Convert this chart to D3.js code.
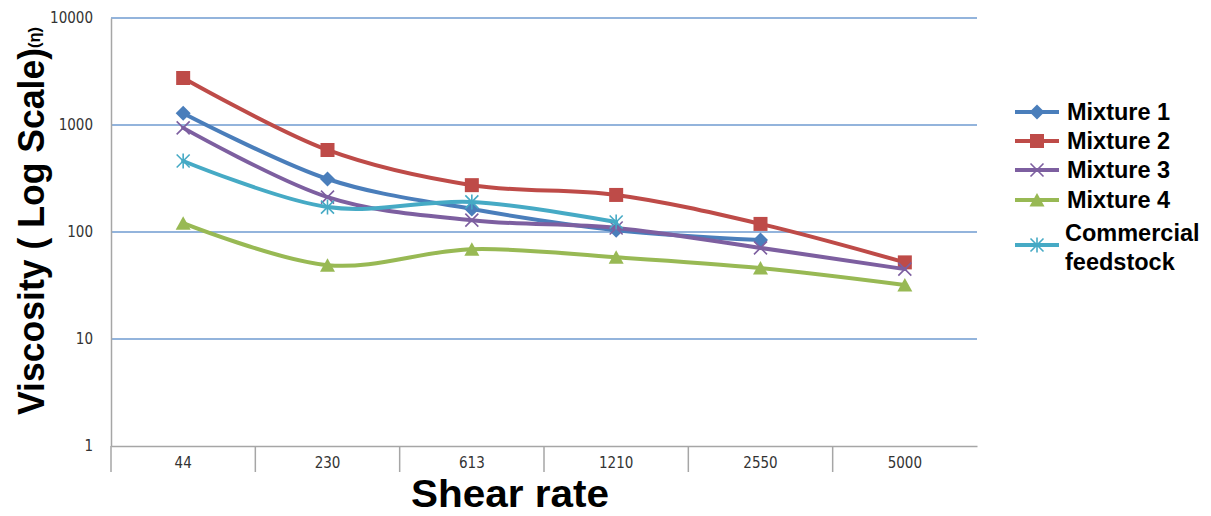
<!DOCTYPE html>
<html><head><meta charset="utf-8">
<script src="https://cdn.jsdelivr.net/npm/d3@7"></script>
<style>body{margin:0;background:#fff}svg{display:block}</style>
</head><body>
<script>
const categories = ["44","230","613","1210","2550","5000"];
const mixture1 = [1290, 313, 164, 104, 84, null];
const mixture2 = [2750, 584, 274, 222, 119, 52];
const mixture3 = [940, 212, 129, 109, 71, 45];
const mixture4 = [121, 49, 69, 58, 46, 32];
const commercial = [461, 171, 191, 124, null, null];
const yTicks = [1, 10, 100, 1000, 10000];
const seriesNames = ["Mixture 1","Mixture 2","Mixture 3","Mixture 4","Commercial feedstock"];
const seriesValues = [mixture1, mixture2, mixture3, mixture4, commercial];
const colors = ["#4a7ebb","#be4b48","#7d5fa0","#98b954","#46aac5"];
const markers = ["diamond","square","x","triangle","asterisk"];

(function () {
const W = 1211, H = 516;
const svg = d3.select("body").append("svg").attr("width", W).attr("height", H);
const pLeft = 111, pRight = 977, pTop = 18, pBottom = 446;
const x = d3.scaleBand().domain(categories).range([pLeft, pRight]);
const y = d3.scaleLog().domain([1, 10000]).range([pBottom, pTop]);
const narrow = "'Liberation Sans Narrow','DejaVu Sans Condensed',sans-serif";
const bold = "'Liberation Sans',Arial,sans-serif";

svg.append("g").selectAll("line").data(yTicks.slice(1)).join("line")
  .attr("x1", pLeft).attr("x2", pRight)
  .attr("y1", d => y(d)).attr("y2", d => y(d))
  .attr("stroke", "#6f9bd1").attr("stroke-width", 1.5);

const yAxis = svg.append("g").attr("transform", `translate(${pLeft},0)`)
  .call(d3.axisLeft(y).tickValues(yTicks).tickFormat(d3.format("d")).tickSize(0).tickPadding(18));
yAxis.select(".domain").attr("stroke", "#a6a6a6").attr("stroke-width", 1.5);
yAxis.selectAll("text").attr("font-family", narrow).attr("font-size", 15).attr("fill", "#333");

const xAxis = svg.append("g").attr("transform", `translate(0,${pBottom})`)
  .call(d3.axisBottom(x).tickSize(0).tickPadding(11));
xAxis.select(".domain").attr("stroke", "#a6a6a6").attr("stroke-width", 1.5);
xAxis.selectAll("text").attr("font-family", narrow).attr("font-size", 15).attr("fill", "#333");
const seps = categories.map(c => x(c));
svg.append("g").selectAll("line").data(seps).join("line")
  .attr("x1", d => d).attr("x2", d => d).attr("y1", pBottom).attr("y2", pBottom + 26)
  .attr("stroke", "#a6a6a6").attr("stroke-width", 1.5);

function drawMarker(g, type, color, cx, cy) {
  const s = g.append("g").attr("transform", `translate(${cx},${cy})`);
  if (type === "diamond") {
    s.append("path").attr("d", "M0,-7.5L7.5,0L0,7.5L-7.5,0Z").attr("fill", color);
  } else if (type === "square") {
    s.append("rect").attr("x", -7).attr("y", -7).attr("width", 14).attr("height", 14).attr("fill", color);
  } else if (type === "triangle") {
    s.append("path").attr("d", "M0,-7L7.5,6.5L-7.5,6.5Z").attr("fill", color);
  } else if (type === "x") {
    s.append("path").attr("d", "M-6.5,-6.5L6.5,6.5M-6.5,6.5L6.5,-6.5").attr("stroke", color).attr("stroke-width", 1.6);
  } else if (type === "asterisk") {
    s.append("path").attr("d", "M-6.5,-6.5L6.5,6.5M-6.5,6.5L6.5,-6.5M0,-7.5L0,7.5").attr("stroke", color).attr("stroke-width", 1.6);
  }
}

const line = d3.line()
  .defined(d => d.v != null)
  .x(d => x(d.c) + x.bandwidth() / 2)
  .y(d => y(d.v))
  .curve(d3.curveCardinal.tension(0));

seriesValues.forEach((vals, i) => {
  const pts = categories.map((c, j) => ({c, v: vals[j]}));
  svg.append("path").datum(pts).attr("d", line)
    .attr("fill", "none").attr("stroke", colors[i]).attr("stroke-width", 4)
    .attr("stroke-linejoin", "round").attr("stroke-linecap", "round");
  const mg = svg.append("g");
  pts.filter(p => p.v != null).forEach(p => drawMarker(mg, markers[i], colors[i], x(p.c) + x.bandwidth() / 2, y(p.v)));
});

const yt = svg.append("text").attr("transform", "translate(44,221) rotate(-90)")
  .attr("text-anchor", "middle").attr("font-family", bold)
  .attr("font-weight", "bold").attr("font-size", 37).attr("fill", "#000");
yt.append("tspan").text("Viscosity ( Log Scale)");
yt.append("tspan").attr("font-size", 17).attr("dy", -4).text("(η)");
yt.attr("textLength", 388).attr("lengthAdjust", "spacingAndGlyphs");

svg.append("text").attr("x", 510).attr("y", 507).attr("text-anchor", "middle")
  .attr("font-family", bold).attr("font-weight", "bold")
  .attr("font-size", 38).attr("fill", "#000")
  .attr("textLength", 198).attr("lengthAdjust", "spacingAndGlyphs").text("Shear rate");

const legendY = [112, 141, 170, 200, 245];
const lg = svg.append("g");
seriesNames.forEach((n, i) => {
  const ly = legendY[i];
  lg.append("line").attr("x1", 1015).attr("x2", 1059).attr("y1", ly).attr("y2", ly)
    .attr("stroke", colors[i]).attr("stroke-width", 4);
  drawMarker(lg, markers[i], colors[i], 1037, ly);
  const t = lg.append("text").attr("font-family", bold)
    .attr("font-weight", "bold").attr("font-size", 23.5).attr("fill", "#000");
  if (i === 4) {
    t.append("tspan").attr("x", 1065).attr("y", ly - 4).text("Commercial");
    t.append("tspan").attr("x", 1065).attr("y", ly + 25).text("feedstock");
  } else {
    t.attr("x", 1067).attr("y", ly + 8).text(n);
  }
});
})();
</script>
</body></html>
